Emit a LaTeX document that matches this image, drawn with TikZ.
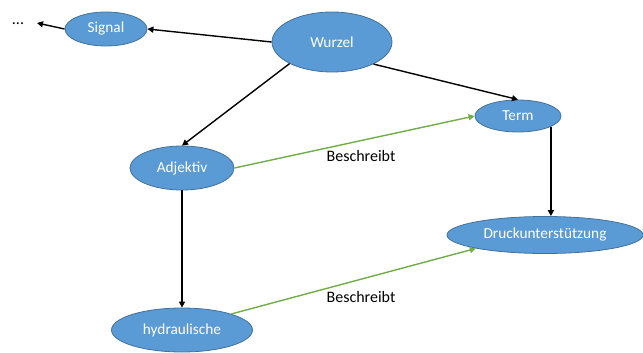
\documentclass[tikz,border=0pt]{standalone}
\usepackage{fontspec}
\setmainfont{Carlito}
\usetikzlibrary{arrows.meta,shapes.geometric}
\definecolor{boxblue}{HTML}{5B9BD5}
\definecolor{rimblue}{HTML}{41719C}
\definecolor{descgreen}{HTML}{70AD47}

\begin{document}
\begin{tikzpicture}[x=1pt,y=-1pt,
  word/.style={ellipse,fill=boxblue,draw=rimblue,line width=.8pt,text=white,inner sep=0pt,
    font=\fontsize{15.3}{18}\selectfont},
  link/.style={line width=1.4pt,-{Triangle[length=6pt,width=6pt]}},
  desc/.style={line width=1.4pt,descgreen,-{Triangle[length=6pt,width=6pt]}},
  tag/.style={font=\fontsize{16}{19}\selectfont}]
\useasboundingbox (0,0) rectangle (643,353);
\node[word,minimum width=120pt,minimum height=60pt] (wurzel) at (332,42) {Wurzel};
\node[word,minimum width=82pt,minimum height=34pt] (signal) at (106,29) {Signal};
\node[word,minimum width=86pt,minimum height=32pt] (term) at (518,116) {Term};
\node[word,minimum width=104pt,minimum height=44pt] (adjektiv) at (182,168) {Adjektiv};
\node[word,minimum width=141pt,minimum height=44pt] (hydr) at (182,330) {hydraulische};
\node[word,minimum width=196pt,minimum height=37pt] (druck) at (545,235) {Druckunterstützung};
\node[tag] (dots) at (18,24) {...};
\coordinate (dotsend) at (37,23);
\node[tag] (besch1) at (361,156) {Beschreibt};
\node[tag] (besch2) at (361,297) {Beschreibt};
\draw[link] (wurzel.west) -- (signal.east);
\draw[link] (signal.west) -- (dotsend);
\draw[link] (wurzel.207) -- (adjektiv.north);
\draw[link] (wurzel.332) -- (term.north);
\draw[link] (term.342) -- (term.342 |- druck.north);
\draw[link] (adjektiv.south) -- (hydr.north);
\draw[desc] (adjektiv.east) -- (term.west);
\draw[desc] (hydr.18) -- (druck.191);
\end{tikzpicture}
\end{document}
